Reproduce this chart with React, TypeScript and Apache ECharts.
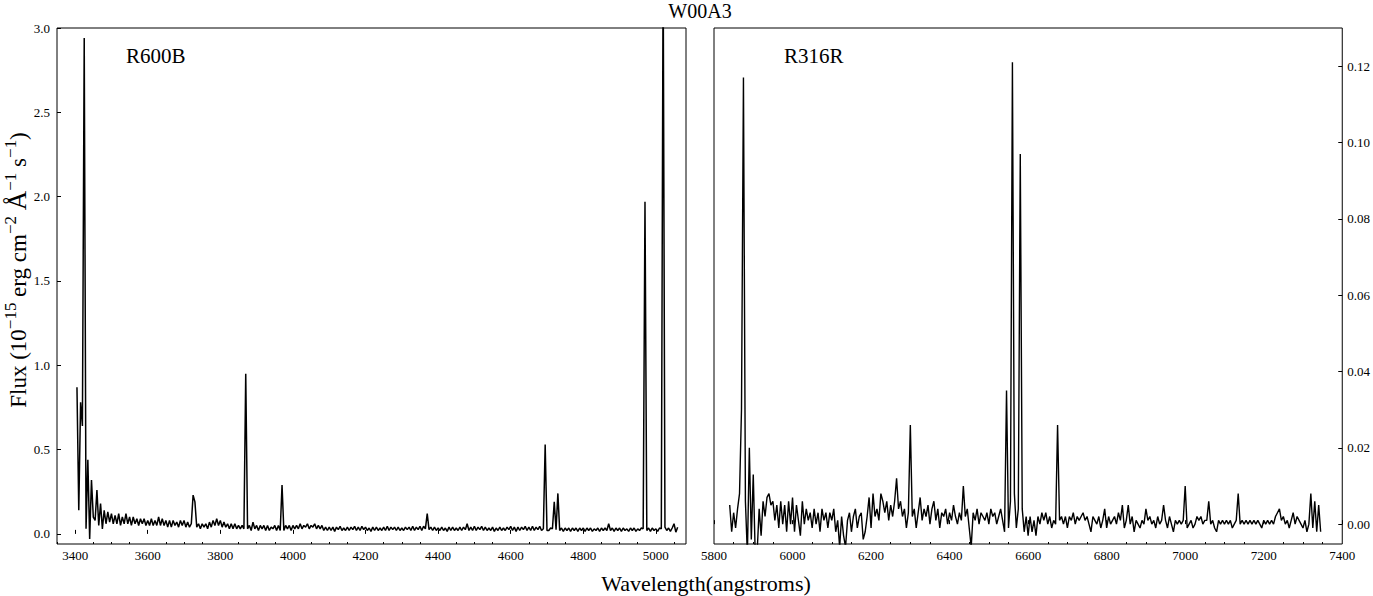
import React, { useEffect, useRef } from "react";
import * as echarts from "echarts";

// ---------- data ----------
// R600B spectrum: wavelength grid starts at 3405 Å, 5 Å steps
const blueStart = 3405;
const blueStep = 5;
const blueFlux = [
  0.87, 0.14, 0.78, 0.64, 2.94, 0.03, 0.44, -0.03, 0.32, 0.10,
  0.08, 0.26, 0.05, 0.18, 0.03, 0.14, 0.06, 0.13, 0.07, 0.12,
  0.06, 0.11, 0.06, 0.12, 0.05, 0.10, 0.06, 0.12, 0.06, 0.10,
  0.05, 0.10, 0.06, 0.09, 0.05, 0.09, 0.06, 0.09, 0.05, 0.08,
  0.05, 0.09, 0.05, 0.08, 0.05, 0.10, 0.05, 0.09, 0.05, 0.08,
  0.04, 0.08, 0.04, 0.08, 0.05, 0.07, 0.04, 0.08, 0.05, 0.08,
  0.04, 0.07, 0.04, 0.06, 0.23, 0.19, 0.04, 0.06, 0.03, 0.06,
  0.04, 0.06, 0.03, 0.07, 0.04, 0.08, 0.05, 0.09, 0.05, 0.08,
  0.04, 0.07, 0.04, 0.06, 0.03, 0.06, 0.03, 0.06, 0.03, 0.05,
  0.03, 0.05, 0.03, 0.95, 0.03, 0.05, 0.02, 0.07, 0.03, 0.05,
  0.02, 0.05, 0.03, 0.05, 0.02, 0.05, 0.02, 0.04, 0.03, 0.05,
  0.02, 0.05, 0.02, 0.29, 0.02, 0.05, 0.03, 0.05, 0.02, 0.05,
  0.03, 0.05, 0.03, 0.06, 0.03, 0.05, 0.04, 0.06, 0.03, 0.05,
  0.04, 0.06, 0.03, 0.05, 0.03, 0.05, 0.02, 0.04, 0.02, 0.04,
  0.02, 0.04, 0.015, 0.04, 0.025, 0.045, 0.02, 0.035, 0.02, 0.04,
  0.02, 0.04, 0.025, 0.045, 0.02, 0.04, 0.02, 0.045, 0.025, 0.04,
  0.02, 0.035, 0.015, 0.04, 0.02, 0.04, 0.02, 0.035, 0.02, 0.04,
  0.02, 0.045, 0.02, 0.04, 0.025, 0.04, 0.02, 0.04, 0.02, 0.035,
  0.02, 0.04, 0.025, 0.04, 0.02, 0.045, 0.02, 0.04, 0.025, 0.045,
  0.02, 0.045, 0.03, 0.12, 0.025, 0.04, 0.02, 0.04, 0.02, 0.035,
  0.02, 0.04, 0.02, 0.035, 0.015, 0.04, 0.02, 0.04, 0.02, 0.035,
  0.02, 0.04, 0.02, 0.04, 0.025, 0.06, 0.02, 0.04, 0.02, 0.045,
  0.02, 0.04, 0.025, 0.045, 0.02, 0.04, 0.02, 0.035, 0.02, 0.04,
  0.015, 0.035, 0.02, 0.04, 0.02, 0.035, 0.02, 0.04, 0.025, 0.045,
  0.02, 0.04, 0.015, 0.04, 0.02, 0.04, 0.025, 0.045, 0.02, 0.04,
  0.02, 0.045, 0.02, 0.04, 0.025, 0.045, 0.02, 0.03, 0.53, 0.02,
  0.02, 0.035, 0.03, 0.19, 0.025, 0.24, 0.02, 0.035, 0.015, 0.035,
  0.02, 0.035, 0.015, 0.035, 0.02, 0.035, 0.015, 0.035, 0.02, 0.035,
  0.015, 0.035, 0.02, 0.035, 0.015, 0.03, 0.02, 0.035, 0.015, 0.035,
  0.02, 0.035, 0.02, 0.06, 0.02, 0.035, 0.015, 0.035, 0.02, 0.035,
  0.015, 0.035, 0.02, 0.03, 0.015, 0.035, 0.02, 0.035, 0.015, 0.03,
  0.02, 0.035, 0.03, 1.97, 0.02, 0.035, 0.015, 0.035, 0.02, 0.03,
  0.015, 0.035, 0.03, 3.40, 0.04, 0.02, 0.035, 0.015, 0.035, 0.06,
  0.01, 0.04,
];

// R316R spectrum: wavelength grid starts at 5840 Å, 5 Å steps
const redStart = 5840;
const redStep = 5;
const redFlux = [
  0.005, -0.002, 0.003, -0.001, 0.004, 0.008, 0.030, 0.117, 0.006, -0.008,
  0.020, -0.004, 0.013, -0.008, -0.007, 0.004, -0.003, 0.006, 0.002, 0.007,
  0.008, 0.005, 0.006, 0.001, 0.005, -0.001, 0.006, 0.000, 0.005, -0.002,
  0.006, 0.000, 0.007, -0.002, 0.005, 0.001, -0.003, 0.006, 0.000, 0.004,
  0.001, 0.003, -0.001, 0.004, 0.000, 0.003, -0.002, 0.004, 0.001, 0.003,
  -0.001, 0.003, 0.001, 0.004, -0.002, 0.001, -0.006, 0.002, -0.003, -0.006,
  0.001, 0.003, -0.002, 0.002, 0.004, -0.001, 0.002, 0.003, -0.004, -0.002,
  0.002, 0.007, -0.001, 0.008, 0.002, 0.004, 0.001, 0.008, 0.006, 0.003,
  0.006, 0.001, 0.005, 0.002, 0.006, 0.012, 0.004, 0.006, 0.002, 0.004,
  -0.001, 0.003, 0.026, 0.002, 0.004, -0.001, 0.003, 0.007, 0.001, 0.004,
  0.002, 0.005, 0.000, 0.004, 0.006, 0.001, 0.004, -0.001, 0.003, 0.002,
  0.004, 0.000, 0.003, 0.001, 0.005, 0.002, 0.000, 0.003, 0.001, 0.010,
  0.002, 0.004, -0.001, -0.006, 0.003, 0.001, 0.004, 0.000, 0.003, 0.002,
  0.001, 0.003, 0.000, 0.004, 0.002, 0.003, 0.000, 0.002, 0.004, 0.001,
  -0.002, 0.035, -0.001, 0.006, 0.121, 0.008, -0.001, 0.004, 0.097, 0.004,
  -0.002, 0.002, -0.003, 0.002, -0.002, 0.001, -0.003, 0.002, 0.000, 0.003,
  0.001, 0.003, 0.000, 0.002, -0.001, 0.001, 0.000, 0.026, 0.001, 0.002,
  0.000, 0.002, -0.001, 0.002, 0.001, 0.003, 0.000, 0.002, 0.001, 0.002,
  0.003, 0.001, 0.002, 0.000, -0.002, 0.002, 0.001, 0.000, 0.002, -0.001,
  0.001, 0.004, -0.001, 0.002, 0.000, 0.001, 0.002, 0.000, 0.003, 0.001,
  0.005, -0.001, 0.001, 0.005, 0.000, 0.002, -0.002, 0.001, 0.000, -0.001,
  0.001, 0.000, 0.004, 0.001, 0.002, 0.000, 0.001, -0.001, 0.002, 0.000,
  0.001, 0.005, 0.001, -0.001, 0.002, 0.000, -0.002, 0.001, 0.000, 0.001,
  0.000, 0.001, 0.010, -0.001, 0.000, 0.001, -0.001, 0.000, 0.002, 0.001,
  0.002, 0.000, 0.001, 0.001, 0.006, 0.000, 0.001, -0.001, -0.002, 0.001,
  0.000, 0.001, 0.000, 0.001, 0.000, 0.001, -0.001, 0.000, 0.001, 0.008,
  0.000, 0.001, 0.000, 0.001, 0.000, 0.001, 0.000, 0.001, 0.000, 0.001,
  0.000, -0.001, 0.001, 0.000, 0.001, 0.000, 0.001, 0.000, 0.002, 0.003,
  0.004, 0.001, 0.002, 0.000, 0.001, -0.001, 0.001, 0.003, 0.000, 0.002,
  0.001, 0.000, -0.001, 0.001, -0.002, 0.000, 0.008, -0.001, 0.006, -0.002,
  0.005, -0.002,
];

const blueXTicks = [3400, 3600, 3800, 4000, 4200, 4400, 4600, 4800, 5000];
const redXTicks = [5800, 6000, 6200, 6400, 6600, 6800, 7000, 7200, 7400];
const blueYTicks = [0, 0.5, 1.0, 1.5, 2.0, 2.5, 3.0];
const redYTicks = [0, 0.02, 0.04, 0.06, 0.08, 0.1, 0.12];

const titleText = "W00A3";
const blueLabel = "R600B";
const redLabel = "R316R";
const xAxisTitle = "Wavelength(angstroms)";

const FONT = '"Liberation Serif", "Times New Roman", serif';

function minorTicks(lo: number, hi: number, step: number, majors: number[]) {
  const out: number[] = [];
  for (let v = Math.ceil(lo / step) * step; v <= hi; v += step) {
    if (!majors.includes(v)) out.push(v);
  }
  return out;
}

export default function App() {
  const ref = useRef<HTMLDivElement>(null);

  useEffect(() => {
    if (!ref.current) return;
    const chart = echarts.init(ref.current, undefined, { renderer: "svg" });

    const blueData = blueFlux.map((v, i) => [blueStart + i * blueStep, v]);
    const redData = redFlux.map((v, i) => [redStart + i * redStep, v]);

    const bxMin = 3350, bxMax = 5083;
    const rxMin = 5800, rxMax = 7400;

    const majorX = (gridIndex: number, min: number, max: number, ticks: number[]) => ({
      type: "value",
      gridIndex,
      min,
      max,
      position: "bottom",
      axisLine: { show: false },
      splitLine: { show: false },
      axisTick: {
        show: true,
        inside: true,
        length: 4,
        customValues: ticks,
        lineStyle: { color: "#000", width: 1 },
      },
      axisLabel: {
        customValues: ticks,
        margin: 5,
        fontSize: 13,
        color: "#000",
        fontFamily: FONT,
        hideOverlap: false,
        formatter: (v: number) => String(v),
      },
    });
    const minorX = (gridIndex: number, min: number, max: number, ticks: number[]) => ({
      type: "value",
      gridIndex,
      min,
      max,
      position: "bottom",
      axisLine: { show: false },
      splitLine: { show: false },
      axisTick: {
        show: true,
        inside: true,
        length: 2,
        customValues: minorTicks(min, max, 50, ticks),
        lineStyle: { color: "#000", width: 1 },
      },
      axisLabel: { show: false },
    });

    const option: any = {
      animation: false,
      backgroundColor: "#fff",
      textStyle: { fontFamily: FONT },
      grid: [
        { left: 57, top: 28, width: 629, height: 516, show: true, borderColor: "#000", borderWidth: 1, backgroundColor: "transparent" },
        { left: 714, top: 28, width: 630, height: 516, show: true, borderColor: "#000", borderWidth: 1, backgroundColor: "transparent" },
      ],
      xAxis: [
        majorX(0, bxMin, bxMax, blueXTicks),
        majorX(1, rxMin, rxMax, redXTicks),
        minorX(0, bxMin, bxMax, blueXTicks),
        minorX(1, rxMin, rxMax, redXTicks),
      ],
      yAxis: [
        {
          type: "value",
          gridIndex: 0,
          min: -0.06,
          max: 3.0,
          position: "left",
          axisLine: { show: false },
          splitLine: { show: false },
          axisTick: { show: true, inside: true, length: 4, customValues: blueYTicks, lineStyle: { color: "#000" } },
          axisLabel: {
            customValues: blueYTicks,
            margin: 7,
            fontSize: 13,
            color: "#000",
            fontFamily: FONT,
            formatter: (v: number) => v.toFixed(1),
          },
        },
        {
          type: "value",
          gridIndex: 1,
          min: -0.0052,
          max: 0.13,
          position: "right",
          axisLine: { show: false },
          splitLine: { show: false },
          axisTick: { show: true, inside: true, length: 4, customValues: redYTicks, lineStyle: { color: "#000" } },
          axisLabel: {
            customValues: redYTicks,
            margin: 5,
            fontSize: 13,
            color: "#000",
            fontFamily: FONT,
            formatter: (v: number) => v.toFixed(2),
          },
        },
      ],
      series: [
        {
          type: "line",
          xAxisIndex: 0,
          yAxisIndex: 0,
          data: blueData,
          showSymbol: false,
          symbol: "none",
          clip: true,
          lineStyle: { color: "#000", width: 1.5 },
        },
        {
          type: "line",
          xAxisIndex: 1,
          yAxisIndex: 1,
          data: redData,
          showSymbol: false,
          symbol: "none",
          clip: true,
          lineStyle: { color: "#000", width: 1.4 },
        },
      ],
      graphic: [
        {
          type: "text",
          x: 700,
          y: 11,
          style: { text: titleText, font: `20px ${FONT}`, fill: "#000", align: "center", verticalAlign: "middle", textAlign: "center", textVerticalAlign: "middle" },
        },
        {
          type: "text",
          x: 126,
          y: 56,
          style: { text: blueLabel, font: `21px ${FONT}`, fill: "#000", align: "left", verticalAlign: "middle", textAlign: "left", textVerticalAlign: "middle" },
        },
        {
          type: "text",
          x: 784,
          y: 56,
          style: { text: redLabel, font: `21px ${FONT}`, fill: "#000", align: "left", verticalAlign: "middle", textAlign: "left", textVerticalAlign: "middle" },
        },
        {
          type: "text",
          x: 706,
          y: 583,
          style: { text: xAxisTitle, font: `22px ${FONT}`, fill: "#000", align: "center", verticalAlign: "middle", textAlign: "center", textVerticalAlign: "middle" },
        },
        {
          type: "text",
          x: 16,
          y: 270,
          rotation: Math.PI / 2,
          style: {
            text: "{m|Flux (10}{s|−15}{m| erg cm}{s|−2}{m| }{a|Å}{s|−1}{m| s}{s|−1}{m|)}",
            fill: "#000",
            align: "center",
            verticalAlign: "middle",
            textAlign: "center",
            textVerticalAlign: "middle",
            rich: {
              m: { fontSize: 23, fontFamily: FONT, fill: "#000", color: "#000", verticalAlign: "bottom", lineHeight: 28 },
              a: { fontSize: 27, fontFamily: FONT, fill: "#000", color: "#000", verticalAlign: "bottom", lineHeight: 28 },
              s: { fontSize: 17, fontFamily: FONT, fill: "#000", color: "#000", verticalAlign: "top", lineHeight: 20 },
            },
          },
        },
      ],
    };

    chart.setOption(option);
    return () => chart.dispose();
  }, []);

  return (
    <div
      ref={ref}
      style={{ position: "fixed", left: 0, top: 0, width: 1373, height: 596, background: "#fff" }}
    />
  );
}
